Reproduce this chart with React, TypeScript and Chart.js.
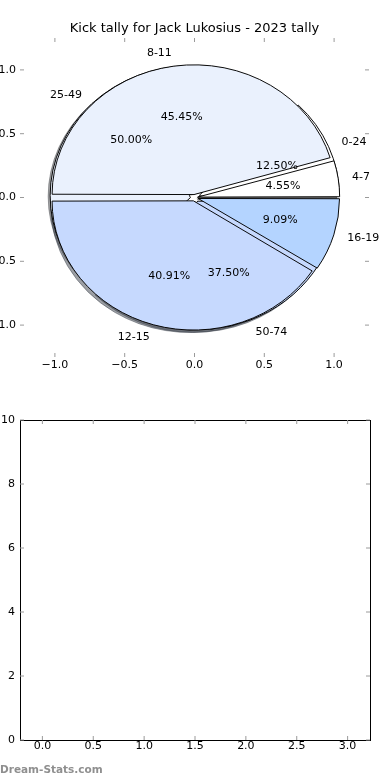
import React, { useEffect, useRef } from 'react';
import { Chart, registerables } from 'chart.js';

Chart.register(...registerables);

// ---------------- data ----------------
const chartTitle = 'Kick tally for Jack Lukosius - 2023 tally';
// front pie (matplotlib order, counter-clockwise from 3 o'clock)
const kickBins = ['4-7', '8-11', '12-15', '16-19'];
const kickGames = [1, 10, 9, 2];
const kickColors = ['#ffffff', '#eaf1fd', '#c6d9fe', '#b4d4ff'];
// back pie
const rangeBins = ['0-24', '25-49', '50-74'];
const rangeGames = [1, 4, 3];
const rangeColors = ['#ffffff', '#eaf1fd', '#c6d9fe'];
// axes
const pieAxisTicks = [-1, -0.5, 0, 0.5, 1];
const emptyXTicks = [0, 0.5, 1, 1.5, 2, 2.5, 3];
const emptyYTicks = [0, 2, 4, 6, 8, 10];
const watermark = 'Dream-Stats.com';

// ---------------- style / geometry ----------------
const FONT = '"DejaVu Sans", sans-serif';
const PIE_LIM = 1.25;
const EXPLODE = 0.04;
const SHADOW_OFF = 0.02;
const LABEL_DIST = 1.1;
const PCT_DIST = 0.6;
const BACK_WEIGHT = 1;
const FRONT_WEIGHT = 0.001;
const TICK_LEN = 4;

const rev = <T,>(a: T[]) => a.slice().reverse();

function unitPx(chart: any) {
  const x = chart.scales.x;
  return x.getPixelForValue(1) - x.getPixelForValue(0);
}
function yRatio(chart: any) {
  const y = chart.scales.y;
  return (y.getPixelForValue(0) - y.getPixelForValue(1)) / unitPx(chart);
}
// translation the ArcElement really applies for a given `offset`
function arcShift(arc: any) {
  const off = (arc.options && arc.options.offset) || 0;
  const fix = 1 - Math.sin(Math.min(Math.PI, arc.circumference || 0));
  return (off / 4) * (1 + fix);
}
function offsetFor(values: number[], i: number | undefined, chart: any) {
  if (i === undefined || i === null) return 0;
  const total = values.reduce((a, b) => a + b, 0);
  const circ = (2 * Math.PI * values[i]) / total;
  const t = EXPLODE * unitPx(chart);
  return (4 * t) / (2 - Math.sin(Math.min(Math.PI, circ)));
}
function shade(hex: string) {
  const n = parseInt(hex.slice(1), 16);
  const r = Math.round(((n >> 16) & 255) * 0.3);
  const g = Math.round(((n >> 8) & 255) * 0.3);
  const b = Math.round((n & 255) * 0.3);
  return `rgba(${r},${g},${b},0.5)`;
}
const signed = (v: number) => (v < 0 ? '\u2212' : '') + Math.abs(v).toFixed(1);

function ellipse(chart: any, meta: any) {
  const { ctx } = chart;
  const sy = yRatio(chart);
  const cx = meta.data[0].x;
  const cy = meta.data[0].y;
  ctx.translate(cx, cy);
  ctx.scale(1, sy);
  ctx.translate(-cx, -cy);
}

// ---------------- plugins ----------------
const axesDecor = {
  id: 'axesDecor',
  afterDraw(chart: any, _args: any, opts: any) {
    const { ctx, chartArea: a, scales } = chart;
    ctx.save();
    if (opts.frame) {
      ctx.strokeStyle = '#000';
      ctx.lineWidth = 1;
      ctx.strokeRect(a.left + 0.5, a.top + 0.5, a.right - a.left, a.bottom - a.top);
    }
    ctx.strokeStyle = '#9a9a9a';
    ctx.lineWidth = 1;
    ctx.beginPath();
    scales.x.ticks.forEach((t: any) => {
      const px = scales.x.getPixelForValue(t.value);
      ctx.moveTo(px, a.top);
      ctx.lineTo(px, a.top + TICK_LEN);
      ctx.moveTo(px, a.bottom);
      ctx.lineTo(px, a.bottom - TICK_LEN);
    });
    scales.y.ticks.forEach((t: any) => {
      const py = scales.y.getPixelForValue(t.value);
      ctx.moveTo(a.left, py);
      ctx.lineTo(a.left + TICK_LEN, py);
      ctx.moveTo(a.right, py);
      ctx.lineTo(a.right - TICK_LEN, py);
    });
    ctx.stroke();
    if (opts.title) {
      ctx.fillStyle = '#000';
      ctx.font = `13px ${FONT}`;
      ctx.textAlign = 'center';
      ctx.textBaseline = 'middle';
      ctx.fillText(opts.title, (a.left + a.right) / 2, opts.titleY);
    }
    if (opts.watermark) {
      ctx.fillStyle = '#8f8f8f';
      ctx.font = `bold 10.5px ${FONT}`;
      ctx.textAlign = 'left';
      ctx.textBaseline = 'alphabetic';
      ctx.fillText(opts.watermark, 0, opts.watermarkY);
    }
    ctx.restore();
  },
};

const pieDecor = {
  id: 'pieDecor',
  // all shadows go underneath every wedge (as matplotlib's lower zorder)
  beforeDatasetsDraw(chart: any) {
    const { ctx } = chart;
    const R = unitPx(chart);
    const order = chart.getSortedVisibleDatasetMetas().slice().reverse();
    order.forEach((meta: any) => {
      if (meta.type !== 'pie' || !meta.data.length) return;
      const ds = chart.data.datasets[meta.index];
      ctx.save();
      ellipse(chart, meta);
      meta.data.forEach((arc: any, i: number) => {
        const mid = (arc.startAngle + arc.endAngle) / 2;
        const t = arcShift(arc);
        const ox = arc.x + Math.cos(mid) * t - SHADOW_OFF * R;
        const oy = arc.y + Math.sin(mid) * t + SHADOW_OFF * R;
        const col = shade(ds.backgroundColor[i]);
        ctx.beginPath();
        ctx.moveTo(ox, oy);
        ctx.arc(ox, oy, arc.outerRadius, arc.startAngle, arc.endAngle);
        ctx.closePath();
        ctx.fillStyle = col;
        ctx.fill();
        ctx.strokeStyle = col;
        ctx.lineWidth = 1;
        ctx.stroke();
      });
      ctx.restore();
    });
  },
  beforeDatasetDraw(chart: any, args: any) {
    const meta = args.meta;
    if (meta.type !== 'pie' || !meta.data.length) return;
    chart.ctx.save();
    ellipse(chart, meta);
  },
  afterDatasetDraw(chart: any, args: any) {
    if (args.meta.type === 'pie' && args.meta.data.length) chart.ctx.restore();
  },
  afterDatasetsDraw(chart: any) {
    const { ctx } = chart;
    const R = unitPx(chart);
    const sy = yRatio(chart);
    ctx.save();
    ctx.fillStyle = '#000';
    ctx.font = `11px ${FONT}`;
    ctx.textBaseline = 'middle';
    chart.data.datasets.forEach((ds: any, di: number) => {
      const meta = chart.getDatasetMeta(di);
      if (meta.type !== 'pie') return;
      const total = ds.data.reduce((a: number, b: number) => a + b, 0);
      meta.data.forEach((arc: any, i: number) => {
        const mid = (arc.startAngle + arc.endAngle) / 2;
        const t = arcShift(arc);
        const c = Math.cos(mid);
        const s = Math.sin(mid);
        const lr = t + LABEL_DIST * R;
        ctx.textAlign = c > 0 ? 'left' : 'right';
        ctx.fillText(ds.binLabels[i], arc.x + c * lr, arc.y + s * lr * sy);
        const pr = t + PCT_DIST * R;
        ctx.textAlign = 'center';
        ctx.fillText(((ds.data[i] / total) * 100).toFixed(2) + '%', arc.x + c * pr, arc.y + s * pr * sy);
      });
    });
    ctx.restore();
  },
};

// ---------------- configs ----------------
function pieDataset(bins: string[], values: number[], colors: string[], weight: number, radiusFactor: number, order: number) {
  const v = rev(values);
  return {
    type: 'pie',
    data: v,
    order,
    binLabels: rev(bins),
    backgroundColor: rev(colors),
    borderColor: '#000',
    borderWidth: 1,
    borderJoinStyle: 'miter',
    weight,
    rotation: 90,
    clip: false,
    hoverOffset: 0,
    radius: (c: any) => unitPx(c.chart) * radiusFactor,
    offset: (c: any) => offsetFor(v, c.dataIndex, c.chart),
  };
}

function tickFont() {
  return { family: FONT, size: 11 };
}

function topConfig(): any {
  const W = BACK_WEIGHT + FRONT_WEIGHT;
  return {
    type: 'scatter',
    data: {
      datasets: [
        // drawn first (behind): higher order value
        pieDataset(rangeBins, rangeGames, rangeColors, BACK_WEIGHT, 1, 1),
        // drawn last (front)
        pieDataset(kickBins, kickGames, kickColors, FRONT_WEIGHT, W / FRONT_WEIGHT, 0),
      ],
    },
    options: {
      responsive: false,
      animation: false,
      events: [],
      layout: { padding: { top: 38, right: 21, left: 0, bottom: 0 } },
      plugins: {
        legend: { display: false },
        tooltip: { enabled: false },
        title: { display: false },
        axesDecor: { frame: false, title: chartTitle, titleY: 29 },
      },
      scales: {
        x: {
          type: 'linear',
          position: 'bottom',
          min: -PIE_LIM,
          max: PIE_LIM,
          grid: { display: false, drawTicks: false },
          border: { display: false },
          afterBuildTicks: (s: any) => { s.ticks = pieAxisTicks.map((v) => ({ value: v })); },
          afterFit: (s: any) => { s.height = 33; },
          ticks: { padding: 2, color: '#000', font: tickFont(), autoSkip: false, maxRotation: 0, callback: (v: any) => signed(+v) },
        },
        y: {
          type: 'linear',
          position: 'left',
          min: -PIE_LIM,
          max: PIE_LIM,
          grid: { display: false, drawTicks: false },
          border: { display: false },
          afterBuildTicks: (s: any) => { s.ticks = pieAxisTicks.map((v) => ({ value: v })); },
          afterFit: (s: any) => { s.width = 20; },
          ticks: { padding: 4, color: '#000', font: tickFont(), autoSkip: false, callback: (v: any) => signed(+v) },
        },
      },
    },
    plugins: [pieDecor, axesDecor],
  };
}

function bottomConfig(): any {
  return {
    type: 'scatter',
    data: { datasets: [] },
    options: {
      responsive: false,
      animation: false,
      events: [],
      layout: { padding: { top: 30, right: 20, left: 0, bottom: 0 } },
      plugins: {
        legend: { display: false },
        tooltip: { enabled: false },
        title: { display: false },
        axesDecor: { frame: true, watermark, watermarkY: 383 },
      },
      scales: {
        x: {
          type: 'linear',
          position: 'bottom',
          min: -0.22,
          max: 3.22,
          grid: { display: false, drawTicks: false },
          border: { display: false },
          afterBuildTicks: (s: any) => { s.ticks = emptyXTicks.map((v) => ({ value: v })); },
          afterFit: (s: any) => { s.height = 40; },
          ticks: { padding: 0, color: '#000', font: tickFont(), autoSkip: false, maxRotation: 0, callback: (v: any) => (+v).toFixed(1) },
        },
        y: {
          type: 'linear',
          position: 'left',
          min: 0,
          max: 10,
          grid: { display: false, drawTicks: false },
          border: { display: false },
          afterBuildTicks: (s: any) => { s.ticks = emptyYTicks.map((v) => ({ value: v })); },
          afterFit: (s: any) => { s.width = 20; },
          ticks: { padding: 5, color: '#000', font: tickFont(), autoSkip: false, callback: (v: any) => String(v) },
        },
      },
    },
    plugins: [axesDecor],
  };
}

export default function App() {
  const topRef = useRef<HTMLCanvasElement>(null);
  const botRef = useRef<HTMLCanvasElement>(null);
  useEffect(() => {
    const top = new Chart(topRef.current as HTMLCanvasElement, topConfig());
    const bot = new Chart(botRef.current as HTMLCanvasElement, bottomConfig());
    return () => {
      top.destroy();
      bot.destroy();
    };
  }, []);
  return (
    <div style={{ position: 'absolute', left: 0, top: 0, width: 390, height: 780, background: '#fff' }}>
      <canvas ref={topRef} width={390} height={390} style={{ position: 'absolute', left: 0, top: 0 }} />
      <canvas ref={botRef} width={390} height={390} style={{ position: 'absolute', left: 0, top: 390 }} />
    </div>
  );
}
